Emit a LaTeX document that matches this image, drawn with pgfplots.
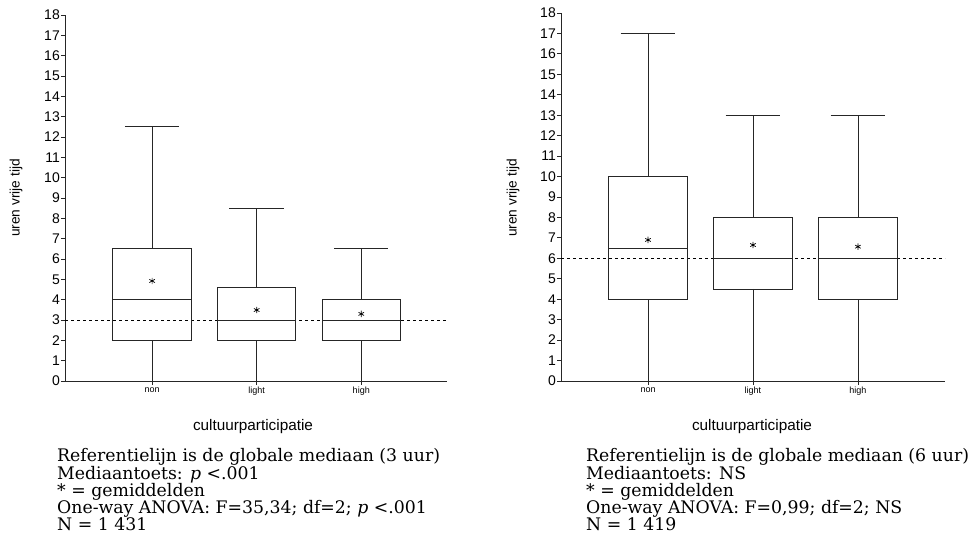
\documentclass[border=0pt]{standalone}
\usepackage{pgfplots}
\pgfplotsset{compat=1.18}
\usepgfplotslibrary{statistics}
\usepackage{fontspec}
\setmainfont{DejaVu Serif}
\newfontfamily\arial{Liberation Sans}
\begin{document}
\begin{tikzpicture}
\useasboundingbox (0pt,0pt) rectangle (973pt,553pt);
\pgfplotsset{
  myax/.style={
    scale only axis,
    anchor=south west,
    axis x line=bottom, axis y line=left,
    axis line style={-, line width=0.8pt, black!85},
    ymin=0, ymax=18, ytick={0,1,...,18},
    xtick={1,2,3}, xticklabels={non,light,high},
    tick align=outside,
    major tick length=4pt,
    tick style={black!85, line width=0.8pt},
    /pgf/number format/assume math mode=true,
    yticklabel style={font=\arial\fontsize{14}{14}\selectfont, inner sep=1pt},
    xticklabel style={font=\arial\fontsize{9}{9}\selectfont, inner sep=1pt, yshift=-1pt},
    boxplot/draw direction=y,
    boxplot/box extend=0.75,
    boxplot/whisker extend=0.52,
    clip=false,
  },
  bx/.style={black!85, line width=0.8pt, solid, mark=none},
  mn/.style={only marks, mark=asterisk, mark size=3.2pt, black, line width=0.7pt},
}
% ---------- left panel ----------
\begin{axis}[myax, at={(65pt,172pt)}, width=382pt, height=366pt, xmin=0.167, xmax=3.82]
\addplot[dashed, black, line width=0.6pt] coordinates {(0.167,3) (3.82,3)};
\addplot[bx, boxplot prepared={lower whisker=0, lower quartile=2, median=4, upper quartile=6.5, upper whisker=12.5, draw position=1}] coordinates {};
\addplot[bx, boxplot prepared={lower whisker=0, lower quartile=2, median=3, upper quartile=4.6, upper whisker=8.5, draw position=2}] coordinates {};
\addplot[bx, boxplot prepared={lower whisker=0, lower quartile=2, median=3, upper quartile=4, upper whisker=6.5, draw position=3}] coordinates {};
\addplot[mn] coordinates {(1,4.92) (2,3.49) (3,3.3)};
\end{axis}
% ---------- right panel ----------
\begin{axis}[myax, at={(561pt,172pt)}, width=384pt, height=368pt, xmin=0.171, xmax=3.83]
\addplot[dashed, black, line width=0.6pt] coordinates {(0.171,6) (3.83,6)};
\addplot[bx, boxplot prepared={lower whisker=0, lower quartile=4, median=6.5, upper quartile=10, upper whisker=17, draw position=1}] coordinates {};
\addplot[bx, boxplot prepared={lower whisker=0, lower quartile=4.5, median=6, upper quartile=8, upper whisker=13, draw position=2}] coordinates {};
\addplot[bx, boxplot prepared={lower whisker=0, lower quartile=4, median=6, upper quartile=8, upper whisker=13, draw position=3}] coordinates {};
\addplot[mn] coordinates {(1,6.9) (2,6.65) (3,6.57)};
\end{axis}
% ---------- labels ----------
\node[font=\arial\fontsize{13.7}{13.7}\selectfont, rotate=90] at (16pt,355pt) {uren vrije tijd};
\node[font=\arial\fontsize{13.7}{13.7}\selectfont, rotate=90] at (513pt,355pt) {uren vrije tijd};
\node[font=\arial\fontsize{15.3}{15.3}\selectfont] at (253pt,126pt) {cultuurparticipatie};
\node[font=\arial\fontsize{15.3}{15.3}\selectfont] at (752pt,126pt) {cultuurparticipatie};
% ---------- notes ----------
\begin{scope}[every node/.style={anchor=base west, inner sep=0pt, font=\fontsize{17.3}{17.3}\selectfont}]
\node at (57pt,91pt) {Referentielijn is de globale mediaan (3 uur)};
\node at (57pt,73.5pt) {Mediaantoets: \textit{p} <.001};
\node at (57pt,56pt) {* = gemiddelden};
\node at (57pt,39pt) {One-way ANOVA: F=35,34; df=2; \textit{p} <.001};
\node at (57pt,22pt) {N = 1 431};
\node at (586pt,91pt) {Referentielijn is de globale mediaan (6 uur)};
\node at (586pt,73.5pt) {Mediaantoets: NS};
\node at (586pt,56pt) {* = gemiddelden};
\node at (586pt,39pt) {One-way ANOVA: F=0,99; df=2; NS};
\node at (586pt,22pt) {N = 1 419};
\end{scope}
\end{tikzpicture}
\end{document}
